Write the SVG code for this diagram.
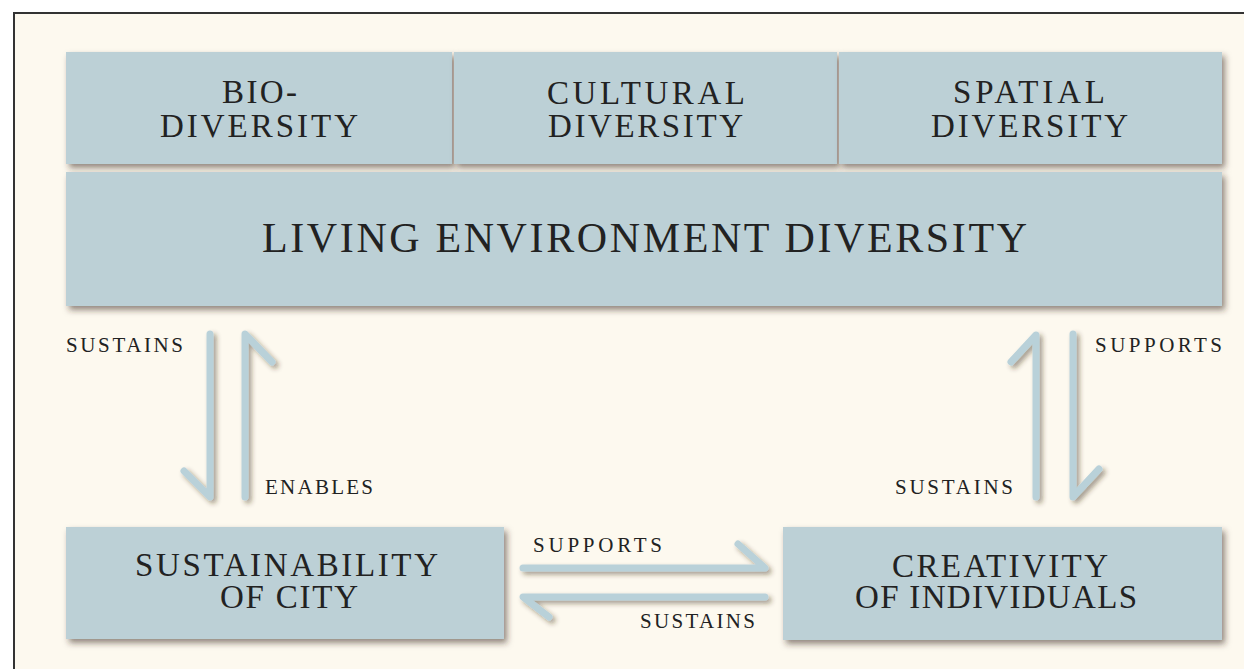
<svg xmlns="http://www.w3.org/2000/svg" width="1244" height="669" viewBox="0 0 1244 669">
<defs>
<filter id="sh" x="-10%" y="-20%" width="120%" height="150%">
<feDropShadow dx="3" dy="4" stdDeviation="3" flood-color="#3a2a1a" flood-opacity="0.55"/>
</filter>
<filter id="ash" filterUnits="userSpaceOnUse" x="0" y="0" width="1244" height="669">
<feDropShadow dx="3" dy="3" stdDeviation="2.5" flood-color="#3a2a1a" flood-opacity="0.45"/>
</filter>
</defs>
<style>
.box{fill:#bcd0d6;filter:url(#sh)}
.arr{fill:none;stroke:#b9d1d9;stroke-width:7;stroke-linecap:round;stroke-linejoin:round;filter:url(#ash)}
.c{font-family:'Liberation Serif',serif;fill:#222}
</style>
<rect width="1244" height="669" fill="#fff"/>
<rect x="14" y="13" width="1240" height="670" fill="#fdf9ef" stroke="#333" stroke-width="2"/>

<g id="bio">
<rect class="box" x="66" y="52" width="386" height="112"/>
<text class="c" x="259.5" y="103" font-size="33" font-family="'Liberation Serif'" text-anchor="middle" textLength="75" lengthAdjust="spacing">BIO-</text>
<text class="c" x="259" y="137" font-size="33" font-family="'Liberation Serif'" text-anchor="middle" textLength="198" lengthAdjust="spacing">DIVERSITY</text>
</g>
<g id="cultural">
<rect class="box" x="454" y="52" width="383" height="112"/>
<text class="c" x="646" y="104" font-size="33" font-family="'Liberation Serif'" text-anchor="middle" textLength="198" lengthAdjust="spacing">CULTURAL</text>
<text class="c" x="645.5" y="137" font-size="33" font-family="'Liberation Serif'" text-anchor="middle" textLength="195" lengthAdjust="spacing">DIVERSITY</text>
</g>
<g id="spatial">
<rect class="box" x="839" y="52" width="383" height="112"/>
<text class="c" x="1029" y="103" font-size="33" font-family="'Liberation Serif'" text-anchor="middle" textLength="152" lengthAdjust="spacing">SPATIAL</text>
<text class="c" x="1029.5" y="137" font-size="33" font-family="'Liberation Serif'" text-anchor="middle" textLength="197" lengthAdjust="spacing">DIVERSITY</text>
</g>
<g id="living">
<rect class="box" x="66" y="172" width="1156" height="134"/>
<text class="c" x="644.5" y="252" font-size="42" font-family="'Liberation Serif'" text-anchor="middle" textLength="765" lengthAdjust="spacing">LIVING ENVIRONMENT DIVERSITY</text>
</g>
<g id="sustainability">
<rect class="box" x="66" y="527" width="438" height="112"/>
<text class="c" x="286.5" y="576" font-size="33" font-family="'Liberation Serif'" text-anchor="middle" textLength="303" lengthAdjust="spacing">SUSTAINABILITY</text>
<text class="c" x="289" y="608" font-size="33" font-family="'Liberation Serif'" text-anchor="middle" textLength="138" lengthAdjust="spacing">OF CITY</text>
</g>
<g id="creativity">
<rect class="box" x="783" y="527" width="439" height="113"/>
<text class="c" x="1000" y="577" font-size="33" font-family="'Liberation Serif'" text-anchor="middle" textLength="216" lengthAdjust="spacing">CREATIVITY</text>
<text class="c" x="996" y="608" font-size="33" font-family="'Liberation Serif'" text-anchor="middle" textLength="282" lengthAdjust="spacing">OF INDIVIDUALS</text>
</g>

<g id="connectors">
<path class="arr" d="M210,334 L210,497 L184,471"/>
<path class="arr" d="M245,497 L245,334 L272,362"/>
<path class="arr" d="M1036,497 L1036,335 L1011,362"/>
<path class="arr" d="M1073,334 L1073,497 L1099,469"/>
<path class="arr" d="M523,568 L765,568 L738,544"/>
<path class="arr" d="M765,597 L523,597 L549,617"/>
<text class="c" x="124.5" y="352" font-size="21" font-family="'Liberation Serif'" text-anchor="middle" textLength="117" lengthAdjust="spacing">SUSTAINS</text>
<text class="c" x="319" y="494" font-size="21" font-family="'Liberation Serif'" text-anchor="middle" textLength="108" lengthAdjust="spacing">ENABLES</text>
<text class="c" x="1158.5" y="352" font-size="21" font-family="'Liberation Serif'" text-anchor="middle" textLength="127" lengthAdjust="spacing">SUPPORTS</text>
<text class="c" x="954" y="494" font-size="21" font-family="'Liberation Serif'" text-anchor="middle" textLength="118" lengthAdjust="spacing">SUSTAINS</text>
<text class="c" x="597.5" y="552" font-size="21" font-family="'Liberation Serif'" text-anchor="middle" textLength="129" lengthAdjust="spacing">SUPPORTS</text>
<text class="c" x="697.5" y="628" font-size="21" font-family="'Liberation Serif'" text-anchor="middle" textLength="115" lengthAdjust="spacing">SUSTAINS</text>
</g>
</svg>
